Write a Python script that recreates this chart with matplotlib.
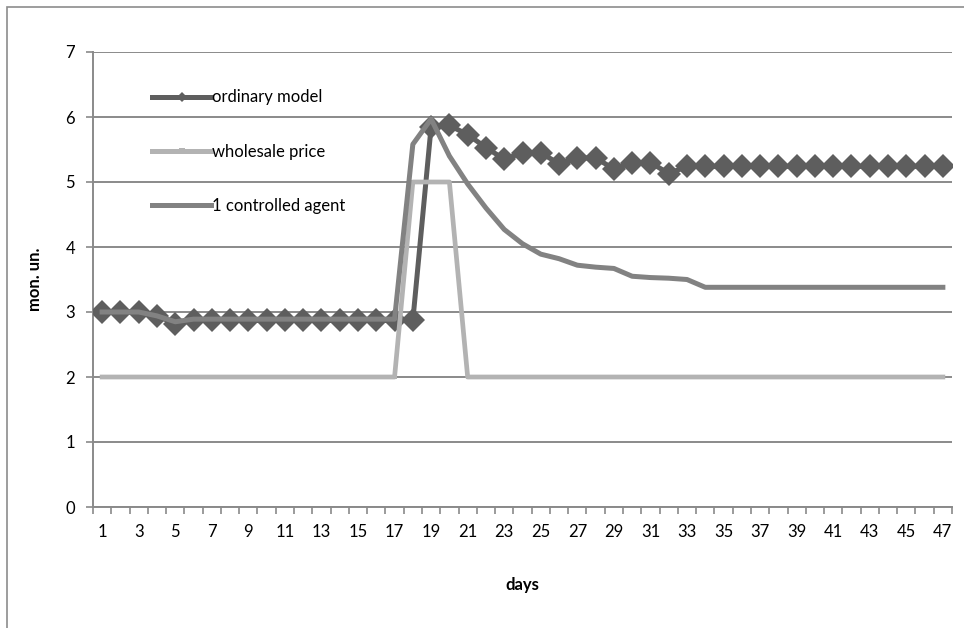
import matplotlib
matplotlib.use("Agg")
import matplotlib.pyplot as plt
from matplotlib.lines import Line2D
from matplotlib.patches import Rectangle

# Simulation results per day
days = list(range(1, 48))

ordinary_model = [3.0, 3.0, 3.0, 2.94, 2.82] + [2.87] * 13 + [
    5.85, 5.87, 5.73, 5.53, 5.35, 5.45, 5.45, 5.28, 5.37, 5.37,
    5.2, 5.3, 5.3, 5.13] + [5.24] * 15

wholesale_price = [2.0] * 17 + [5.0, 5.0, 5.0] + [2.0] * 27

controlled_agent = [3.0, 3.0, 3.0, 2.94, 2.85] + [2.89] * 12 + [
    5.58, 5.97, 5.4, 4.97, 4.6, 4.27, 4.05, 3.89, 3.82, 3.72,
    3.69, 3.67, 3.55, 3.53, 3.52, 3.5] + [3.38] * 14

series_names = ["ordinary model", "wholesale price", "1 controlled agent"]
y_ticks = list(range(0, 8))
x_tick_labels = [str(d) for d in days if d % 2 == 1]

C_ORD = "#5e5e5e"
C_WHS = "#b3b3b3"
C_AGT = "#828282"
C_GRID = "#8a8a8a"
FS = 12

plt.rcParams["font.family"] = ["Lato", "DejaVu Sans"]

W, H = 964, 628
fig = plt.figure(figsize=(W / 100, H / 100), dpi=100)

# outer chart frame
fig.patches.append(Rectangle((7 / W, -0.05), 1.2, 1 - 7 / H + 0.05,
                             transform=fig.transFigure, fill=False,
                             edgecolor="#8c8c8c", linewidth=1.2))

ax = fig.add_axes([93 / W, 1 - 507 / H, (952 - 93) / W, (507 - 52) / H])

ax.plot(days, ordinary_model, color=C_ORD, lw=3.6, marker="D",
        markersize=12, markeredgewidth=0, zorder=3)
ax.plot(days, wholesale_price, color=C_WHS, lw=3.4, marker="s",
        markersize=3.5, markeredgewidth=0, zorder=4)
ax.plot(days, controlled_agent, color=C_AGT, lw=3.6, marker="_",
        markersize=3, markeredgewidth=1.5, zorder=5)

ax.set_xlim(0.5, 47.5)
ax.set_ylim(0, 7)

ax.set_yticks(y_ticks)
ax.yaxis.grid(True, color=C_GRID, lw=1.4)
ax.set_axisbelow(True)

# category boundaries get tick marks, odd days get labels
ax.set_xticks([d - 0.5 for d in days] + [47.5])
ax.set_xticklabels([])
ax.set_xticks([d for d in days if d % 2 == 1], minor=True)
ax.set_xticklabels(x_tick_labels, minor=True)
ax.tick_params(axis="x", which="major", length=5, width=1.2, color=C_GRID,
               direction="out")
ax.tick_params(axis="x", which="minor", length=0, pad=12, labelsize=FS)
ax.tick_params(axis="y", length=5, width=1.2, color=C_GRID, pad=8,
               labelsize=FS)

for side in ("top", "right"):
    ax.spines[side].set_visible(False)
for side in ("left", "bottom"):
    ax.spines[side].set_color(C_GRID)
    ax.spines[side].set_linewidth(1.4)

ax.set_xlabel("days", fontweight="bold", fontsize=FS, labelpad=27)
ax.set_ylabel("mon. un.", fontweight="bold", fontsize=FS, labelpad=16)

handles = [
    Line2D([], [], color=C_ORD, lw=3.6, marker="D", markersize=5,
           markeredgewidth=0),
    Line2D([], [], color=C_WHS, lw=3.6, marker="s", markersize=5,
           markeredgewidth=0),
    Line2D([], [], color=C_AGT, lw=3.6, marker="_", markersize=4,
           markeredgewidth=1.5),
]
ax.legend(handles, series_names, loc="upper left",
          bbox_to_anchor=(51 / 859, 1 - 29 / 455), frameon=False,
          fontsize=FS, handlelength=3.5, handletextpad=0.05,
          labelspacing=2.3, borderpad=0)

fig.savefig("out.png", dpi=100, facecolor="white")
